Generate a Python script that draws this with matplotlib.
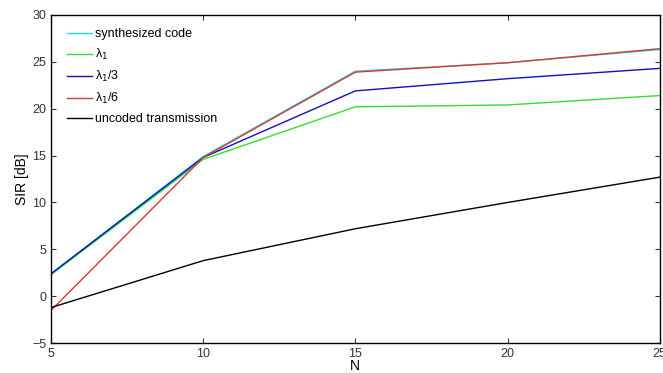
import matplotlib
matplotlib.use("Agg")
import matplotlib.pyplot as plt

plt.rcParams["font.family"] = ["Liberation Sans", "DejaVu Sans"]

N = [5, 10, 15, 20, 25]
synth = [2.4, 14.9, 24.0, 24.9, 26.3]
lam1 = [2.3, 14.6, 20.2, 20.4, 21.4]
lam1_3 = [2.4, 14.8, 21.9, 23.2, 24.3]
lam1_6 = [-1.5, 14.8, 23.9, 24.9, 26.4]
uncoded = [-1.2, 3.8, 7.2, 10.0, 12.7]

fig = plt.figure(figsize=(6.63, 3.73), dpi=100)
ax = fig.add_axes([0.077, 0.08, 0.918, 0.88])

ax.plot(N, synth, color="#22dddd", linewidth=1.0, label="synthesized code")
ax.plot(N, lam1, color="#33dd33", linewidth=1.0, label="λ$_1$")
ax.plot(N, lam1_3, color="#1010c0", linewidth=1.0, label="λ$_1$/3")
ax.plot(N, lam1_6, color="#e03535", linewidth=1.0, label="λ$_1$/6")
ax.plot(N, uncoded, color="black", linewidth=1.0, label="uncoded transmission")

ax.set_xlim(5, 25)
ax.set_ylim(-5, 30)
ax.set_xticks([5, 10, 15, 20, 25])
ax.set_yticks([-5, 0, 5, 10, 15, 20, 25, 30])
ax.tick_params(direction="in", top=True, right=True, labelsize=9, colors="#333333")
for s in ax.spines.values():
    s.set_linewidth(1.0)
ax.set_xlabel("N", fontsize=10, labelpad=-0.5)
ax.set_ylabel("SIR [dB]", fontsize=10, labelpad=2)

ax.legend(loc="upper left", bbox_to_anchor=(0.018, 0.975), frameon=False,
          fontsize=9, handlelength=2.0, handletextpad=0.2, labelspacing=0.55,
          borderaxespad=0.0)

fig.savefig("out.png", dpi=100)
